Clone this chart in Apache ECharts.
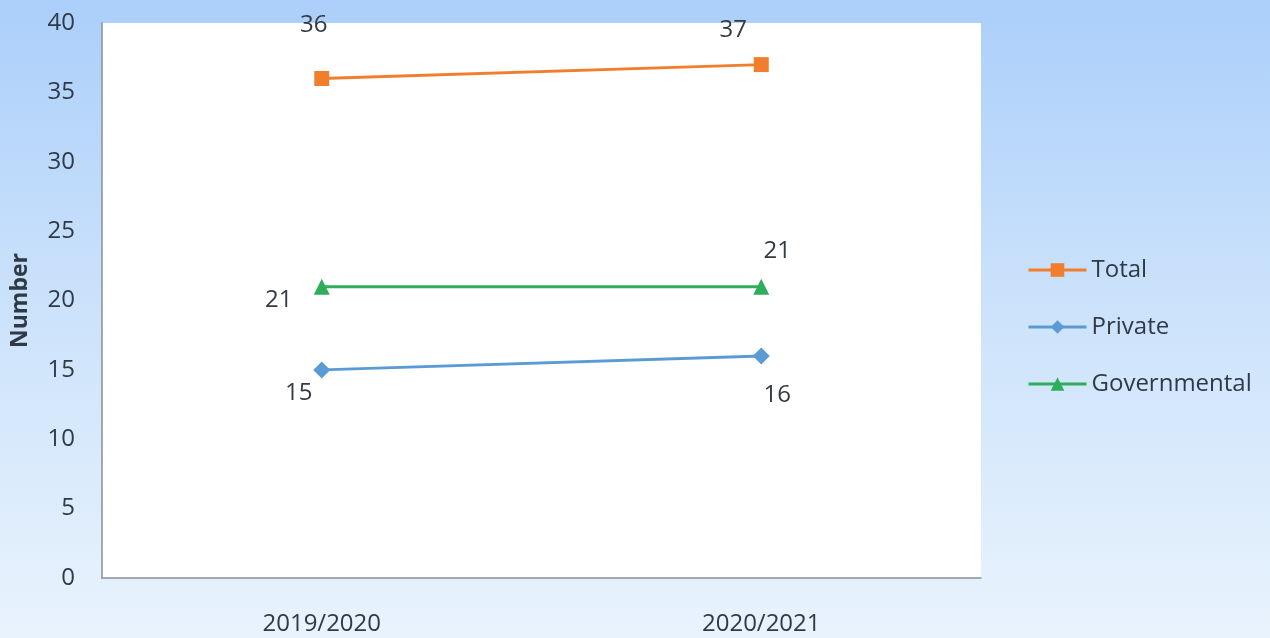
<!DOCTYPE html>
<html>
<head>
<meta charset="utf-8">
<script src="https://cdn.jsdelivr.net/npm/echarts@6/dist/echarts.min.js"></script>
<style>
  html, body { margin: 0; padding: 0; }
  #chart { width: 1270px; height: 638px; }
</style>
</head>
<body>
<div id="chart"></div>
<script>
const categories = ['2019/2020', '2020/2021'];
const totalValues = [36, 37];
const privateValues = [15, 16];
const governmentalValues = [21, 21];
const seriesNames = ['Total', 'Private', 'Governmental'];
const yAxisName = 'Number';

// label placement (pixel offsets from each point), kept separate from data
const labelOffsets = {
  Total: [[-8, -53], [-28, -34]],
  Private: [[-23, 23], [16, 39]],
  Governmental: [[-43, 14], [16, -35]]
};

const FONT = '"Open Sans", sans-serif';
const colors = { Total: '#F07E2C', Private: '#5B9BD5', Governmental: '#2EAD5B' };
const symbols = { Total: 'rect', Private: 'diamond', Governmental: 'triangle' };
const symbolSizes = { Total: 15, Private: 17, Governmental: 16 };
const valuesByName = { Total: totalValues, Private: privateValues, Governmental: governmentalValues };

const chart = echarts.init(document.getElementById('chart'), null, { renderer: 'canvas' });

const series = seriesNames.map(name => ({
  name: name,
  type: 'line',
  data: valuesByName[name].map((v, i) => ({
    value: v,
    label: { offset: labelOffsets[name][i] }
  })),
  symbol: symbols[name],
  symbolSize: symbolSizes[name],
  itemStyle: { color: colors[name] },
  lineStyle: { color: colors[name], width: 3 },
  label: {
    show: true,
    position: 'inside',
    color: '#353a42',
    fontFamily: FONT,
    fontSize: 24
  },
  emphasis: { disabled: true },
  animation: false
}));

chart.setOption({
  backgroundColor: new echarts.graphic.LinearGradient(0, 0, 0, 1, [
    { offset: 0, color: '#abcffa' },
    { offset: 0.5, color: '#cde3fb' },
    { offset: 1, color: '#e9f3fd' }
  ]),
  animation: false,
  grid: {
    left: 102, right: 289, top: 23, bottom: 60,
    show: true, backgroundColor: '#ffffff', borderWidth: 0
  },
  legend: {
    orient: 'vertical',
    left: 1022,
    top: 253,
    itemWidth: 58,
    itemHeight: 17,
    itemGap: 33,
    lineStyle: { width: 3 },
    textStyle: { fontFamily: FONT, fontSize: 24, color: '#2f3a48', lineHeight: 24 },
    data: seriesNames
  },
  xAxis: {
    type: 'category',
    data: categories,
    boundaryGap: true,
    axisLine: { show: true, lineStyle: { color: '#8a8f96', width: 1.5 } },
    axisTick: { show: false },
    axisLabel: { fontFamily: FONT, fontSize: 24, color: '#2f3a48', margin: 34 },
    splitLine: { show: false }
  },
  yAxis: {
    type: 'value',
    min: 0,
    max: 40,
    interval: 5,
    name: yAxisName,
    nameLocation: 'middle',
    nameGap: 70,
    nameRotate: 90,
    nameTextStyle: { fontFamily: FONT, fontSize: 23, fontWeight: 'bold', color: '#2f3a48' },
    axisLine: { show: true, lineStyle: { color: '#8a8f96', width: 1.5 } },
    axisTick: { show: false },
    axisLabel: { fontFamily: FONT, fontSize: 24, color: '#2f3a48', margin: 27 },
    splitLine: { show: false }
  },
  series: series
});
</script>
</body>
</html>
